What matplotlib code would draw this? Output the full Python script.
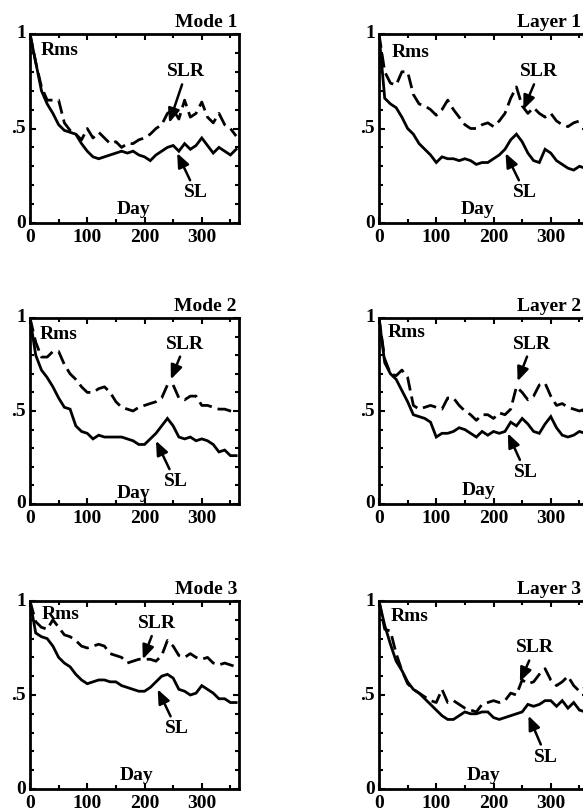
import numpy as np
import matplotlib
matplotlib.use("Agg")
import matplotlib.pyplot as plt
from matplotlib.ticker import MultipleLocator, FixedLocator, FixedFormatter

plt.rcParams['font.family'] = ['Liberation Serif', 'DejaVu Serif']
plt.rcParams['font.weight'] = 'bold'

# ---------------- data ----------------
days = np.arange(0, 361, 10)

titles = ["Mode 1", "Layer 1", "Mode 2", "Layer 2", "Mode 3", "Layer 3"]

mode1_sl = [1.0, 0.85, 0.70, 0.63, 0.58, 0.52, 0.49, 0.48, 0.47, 0.42, 0.38, 0.35, 0.34,
            0.35, 0.36, 0.37, 0.38, 0.37, 0.38, 0.36, 0.35, 0.33, 0.36, 0.38, 0.40, 0.41,
            0.38, 0.42, 0.39, 0.41, 0.45, 0.41, 0.37, 0.40, 0.38, 0.36, 0.39]
mode1_slr = [1.0, 0.85, 0.72, 0.65, 0.65, 0.65, 0.53, 0.49, 0.47, 0.44, 0.50, 0.45, 0.48,
             0.45, 0.42, 0.43, 0.40, 0.42, 0.42, 0.44, 0.45, 0.47, 0.50, 0.52, 0.58, 0.60,
             0.55, 0.65, 0.56, 0.58, 0.64, 0.56, 0.53, 0.58, 0.52, 0.50, 0.46]

layer1_sl = [1.0, 0.66, 0.63, 0.61, 0.56, 0.50, 0.47, 0.42, 0.39, 0.36, 0.32, 0.35, 0.34,
             0.34, 0.33, 0.34, 0.33, 0.31, 0.32, 0.32, 0.34, 0.36, 0.39, 0.44, 0.47, 0.43,
             0.37, 0.33, 0.32, 0.39, 0.37, 0.33, 0.31, 0.29, 0.28, 0.30, 0.29]
layer1_slr = [1.0, 0.80, 0.74, 0.73, 0.80, 0.80, 0.68, 0.63, 0.62, 0.60, 0.57, 0.60, 0.65,
              0.60, 0.56, 0.52, 0.50, 0.50, 0.52, 0.53, 0.51, 0.54, 0.58, 0.66, 0.72, 0.62,
              0.58, 0.61, 0.58, 0.56, 0.58, 0.54, 0.52, 0.51, 0.53, 0.54, 0.53]

mode2_sl = [1.0, 0.80, 0.72, 0.68, 0.63, 0.57, 0.52, 0.51, 0.42, 0.39, 0.38, 0.35, 0.37,
            0.36, 0.36, 0.36, 0.36, 0.35, 0.34, 0.32, 0.32, 0.35, 0.38, 0.42, 0.46, 0.42,
            0.36, 0.35, 0.36, 0.34, 0.35, 0.34, 0.32, 0.28, 0.29, 0.26, 0.26]
mode2_slr = [1.0, 0.87, 0.79, 0.79, 0.82, 0.82, 0.75, 0.70, 0.67, 0.63, 0.60, 0.60, 0.62,
             0.63, 0.60, 0.55, 0.52, 0.51, 0.50, 0.52, 0.53, 0.54, 0.55, 0.57, 0.64, 0.64,
             0.57, 0.56, 0.58, 0.58, 0.53, 0.53, 0.52, 0.51, 0.51, 0.50, 0.49]

layer2_sl = [1.0, 0.76, 0.70, 0.67, 0.61, 0.55, 0.48, 0.47, 0.46, 0.44, 0.36, 0.38, 0.38,
             0.39, 0.41, 0.40, 0.38, 0.36, 0.39, 0.37, 0.39, 0.38, 0.39, 0.44, 0.42, 0.46,
             0.43, 0.39, 0.38, 0.43, 0.47, 0.41, 0.37, 0.36, 0.37, 0.39, 0.38]
layer2_slr = [1.0, 0.78, 0.70, 0.69, 0.72, 0.68, 0.53, 0.51, 0.52, 0.53, 0.52, 0.51, 0.57,
              0.57, 0.53, 0.50, 0.48, 0.45, 0.48, 0.48, 0.46, 0.49, 0.48, 0.51, 0.63, 0.60,
              0.56, 0.58, 0.64, 0.65, 0.58, 0.53, 0.54, 0.52, 0.51, 0.50, 0.51]

mode3_sl = [1.0, 0.83, 0.81, 0.80, 0.76, 0.70, 0.67, 0.65, 0.61, 0.58, 0.56, 0.57, 0.58,
            0.58, 0.57, 0.57, 0.55, 0.54, 0.53, 0.52, 0.52, 0.54, 0.57, 0.60, 0.61, 0.59,
            0.53, 0.52, 0.50, 0.51, 0.55, 0.53, 0.51, 0.48, 0.48, 0.46, 0.46]
mode3_slr = [1.0, 0.89, 0.86, 0.85, 0.90, 0.86, 0.82, 0.81, 0.79, 0.76, 0.75, 0.76, 0.77,
             0.76, 0.72, 0.71, 0.70, 0.67, 0.68, 0.69, 0.69, 0.69, 0.68, 0.71, 0.79, 0.76,
             0.71, 0.70, 0.72, 0.70, 0.69, 0.70, 0.67, 0.66, 0.67, 0.66, 0.65]

layer3_sl = [1.0, 0.87, 0.77, 0.68, 0.63, 0.57, 0.53, 0.51, 0.48, 0.45, 0.42, 0.39, 0.37,
             0.37, 0.39, 0.41, 0.40, 0.40, 0.41, 0.41, 0.38, 0.37, 0.38, 0.39, 0.40, 0.41,
             0.45, 0.44, 0.45, 0.47, 0.47, 0.44, 0.47, 0.43, 0.46, 0.42, 0.41]
layer3_slr = [1.0, 0.85, 0.84, 0.72, 0.63, 0.56, 0.53, 0.51, 0.49, 0.47, 0.46, 0.53, 0.46,
              0.47, 0.45, 0.43, 0.42, 0.41, 0.45, 0.46, 0.47, 0.46, 0.47, 0.51, 0.50, 0.58,
              0.56, 0.57, 0.61, 0.64, 0.58, 0.55, 0.57, 0.60, 0.55, 0.52, 0.54]

sl_series = [mode1_sl, layer1_sl, mode2_sl, layer2_sl, mode3_sl, layer3_sl]
slr_series = [mode1_slr, layer1_slr, mode2_slr, layer2_slr, mode3_slr, layer3_slr]

# ---------------- layout ----------------
W, H = 583, 811
fig = plt.figure(figsize=(W / 100, H / 100), dpi=100)
fig.patch.set_facecolor('white')

col_x = [30, 379]
ax_w = 209
title_right = [237, 581]   # pixel x where the panel titles end
rows = [(34, 223), (318, 504), (601, 789)]

# annotation layout per panel: Rms, SLR text/tip, SL text/tip, Day
ann = [
    dict(rms=(52, 0.915), slr_t=(273, 0.80), slr_p=(243, 0.53), sl_t=(290, 0.16), sl_p=(257, 0.37), day=(180, 0.07)),
    dict(rms=(55, 0.90), slr_t=(280, 0.80), slr_p=(252, 0.60), sl_t=(255, 0.16), sl_p=(221, 0.37), day=(172, 0.07)),
    dict(rms=(50, 0.91), slr_t=(271, 0.86), slr_p=(246, 0.67), sl_t=(254, 0.12), sl_p=(220, 0.34), day=(181, 0.055)),
    dict(rms=(49, 0.92), slr_t=(267, 0.86), slr_p=(242, 0.66), sl_t=(256, 0.17), sl_p=(225, 0.38), day=(173, 0.07)),
    dict(rms=(54, 0.93), slr_t=(221, 0.88), slr_p=(197, 0.69), sl_t=(256, 0.32), sl_p=(223, 0.53), day=(186, 0.07)),
    dict(rms=(53, 0.92), slr_t=(272, 0.75), slr_p=(246, 0.57), sl_t=(292, 0.17), sl_p=(261, 0.39), day=(183, 0.07)),
]

fs = 14
for i in range(6):
    r, c = divmod(i, 2)
    top, bot = rows[r]
    x0 = col_x[c]
    ax = fig.add_axes([x0 / W, (H - bot) / H, ax_w / W, (bot - top) / H])
    ax.plot(days, sl_series[i], color='black', lw=2.0, solid_joinstyle='miter')
    ax.plot(days, slr_series[i], color='black', lw=2.0, linestyle=(0, (5, 2.2)))
    ax.set_xlim(0, 365)
    ax.set_ylim(0, 1)
    for s in ax.spines.values():
        s.set_linewidth(2.0)
    ax.xaxis.set_major_locator(FixedLocator([0, 100, 200, 300]))
    ax.xaxis.set_minor_locator(MultipleLocator(50))
    ax.yaxis.set_major_locator(FixedLocator([0, 0.5, 1.0]))
    ax.yaxis.set_major_formatter(FixedFormatter(['0', '.5', '1']))
    ax.yaxis.set_minor_locator(MultipleLocator(0.1))
    ax.tick_params(which='both', direction='in', top=True, right=True, width=1.5,
                   labelsize=fs)
    ax.tick_params(which='major', length=4)
    ax.tick_params(which='minor', length=3)
    ax.tick_params(axis='x', which='major', pad=4.5)
    ax.tick_params(axis='y', which='major', pad=3)
    for lbl in ax.get_yticklabels():
        lbl.set_verticalalignment('center')
    tx = (title_right[c] - x0) / ax_w
    ax.text(tx, 1.015, titles[i], transform=ax.transAxes, fontsize=fs,
            ha='right', va='bottom')
    a = ann[i]
    ax.text(*a['rms'], 'Rms', fontsize=fs, ha='center', va='center')
    ax.text(*a['day'], 'Day', fontsize=fs, ha='center', va='center')
    ap = dict(arrowstyle='-|>,head_length=0.6,head_width=0.25', lw=1.8, color='black',
              shrinkA=1, shrinkB=0)
    ax.annotate('SLR', xy=a['slr_p'], xytext=a['slr_t'], fontsize=fs,
                ha='center', va='center', arrowprops=ap)
    ax.annotate('SL', xy=a['sl_p'], xytext=a['sl_t'], fontsize=fs,
                ha='center', va='center', arrowprops=ap)

fig.savefig('out.png', dpi=100, facecolor='white')
